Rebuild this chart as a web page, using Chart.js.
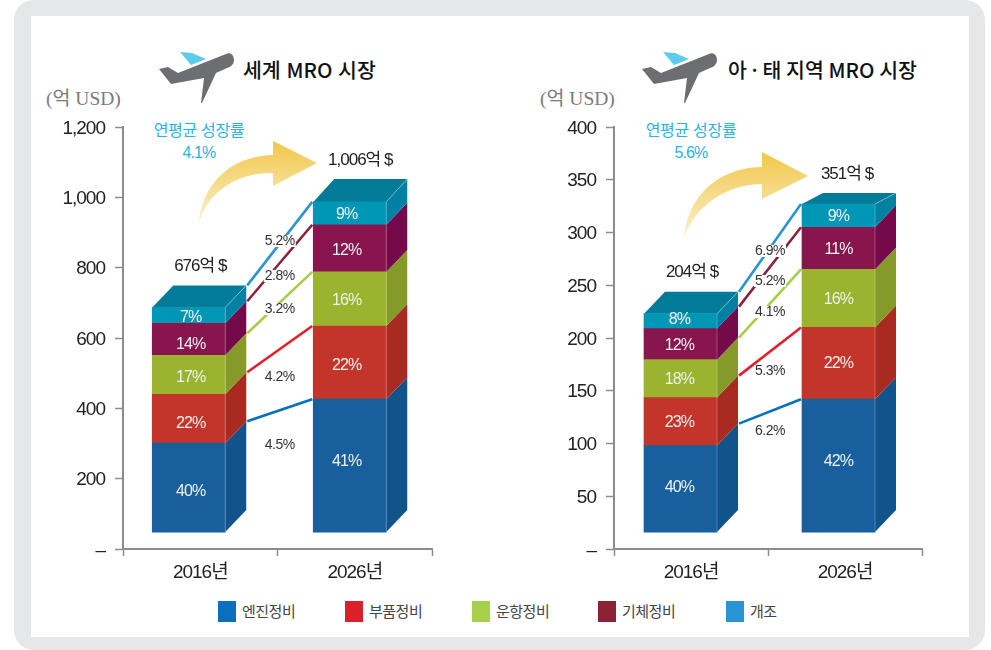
<!DOCTYPE html>
<html lang="ko">
<head>
<meta charset="utf-8">
<title>MRO 시장</title>
<script src="https://cdn.jsdelivr.net/npm/chart.js@4"></script>
<style>
html, body { margin: 0; padding: 0; background: #fff; }
body { width: 991px; height: 650px; overflow: hidden; position: relative; font-family: "Noto Sans CJK KR", sans-serif; }
#frame { position: absolute; left: 14px; top: 0; width: 971px; height: 650px; border-radius: 20px; background: #e6e7e9; }
#inner { position: absolute; left: 31px; top: 16px; width: 938px; height: 621px; background: #fff; }
canvas { position: absolute; }
svg { position: absolute; left: 0; top: 0; }
.title { position: absolute; top: 55px; font-size: 20.5px; font-weight: 500; color: #111; white-space: nowrap; line-height: 28px; }
.unit { position: absolute; top: 87px; font-family: "Liberation Serif", "Noto Sans CJK KR", serif; font-size: 19.5px; color: #7a7a7a; white-space: nowrap; line-height: 24px; }
.cagr { position: absolute; width: 120px; text-align: center; color: #29b4e6; font-size: 16px; line-height: 22px; letter-spacing: -0.3px; white-space: nowrap; }
.cagr b { font-family: "Liberation Sans", sans-serif; font-weight: 400; letter-spacing: -0.9px; }
#legend { position: absolute; left: 0; top: 601px; }
.item { position: absolute; top: 0; white-space: nowrap; }
.item i { position: absolute; left: 0; top: 0; width: 18px; height: 21px; }
.item span { position: absolute; left: 24px; top: 0; font-size: 15px; line-height: 20px; color: #444; letter-spacing: -0.5px; }
</style>
</head>
<body>
<div id="frame"></div>
<div id="inner"></div>

<svg width="991" height="650">
  <defs>
    <linearGradient id="gold" x1="0" y1="0" x2="0" y2="1">
      <stop offset="0" stop-color="#f1c84a"/>
      <stop offset="1" stop-color="#faf0cd"/>
    </linearGradient>
    <g id="plane">
      <path fill="#5ccbec" d="M21 0 L33 1 L47 7 L32 13 Z"/>
      <path fill="#6d6e71" d="M0 17 L9 15 L19 21 L67 2 C71 0 75 3 75 8 C75 12 72 15 68 16 L57 21 L43 51 L42 51 L45 26 L12 32 Z"/>
    </g>
  </defs>
  <use href="#plane" x="159" y="52"/>
  <use href="#plane" x="642" y="52"/>
  <path fill="url(#gold)" d="M199 223 C201 190 225 156 273 155 L273 141 L317 163 L273 186 L273 173 C240 172 208 190 199 223 Z"/>
  <path fill="url(#gold)" d="M684 238 C686 205 710 168 762 167 L762 152 L808 176 L762 199 L762 184 C728 184 695 205 684 238 Z"/>
</svg>

<div class="title" style="left:243px">세계 MRO 시장</div>
<div class="title" style="left:728px;word-spacing:-1px">아 · 태 지역 MRO 시장</div>
<div class="unit" style="left:46px">(억 USD)</div>
<div class="unit" style="left:540px">(억 USD)</div>
<div class="cagr" style="left:139px;top:118px">연평균 성장률<br><b>4.1%</b></div>
<div class="cagr" style="left:631px;top:118px">연평균 성장률<br><b>5.6%</b></div>

<canvas id="World" width="450" height="560" style="left:30px;top:30px;width:450px;height:560px"></canvas>
<canvas id="Asia" width="450" height="560" style="left:520px;top:30px;width:450px;height:560px"></canvas>
<div id="legend"></div>

<script>
const years = ['2016년', '2026년'];
const seriesNames = ['엔진정비', '부품정비', '운항정비', '기체정비', '개조'];

// 막대가 축에서 떠 있어서 아래쪽 빈 구간을 따로 둔다
const worldGap = [48, 48];
const worldEngine = [253, 378];
const worldParts = [139, 208];
const worldLine = [111, 154];
const worldAirframe = [91, 134];
const worldMod = [45, 65];
const worldShares = [[40, 41], [22, 22], [17, 16], [14, 12], [7, 9]];
const worldGrowth = ['4.5%', '4.2%', '3.2%', '2.8%', '5.2%'];
const worldTotals = ['676억 $', '1,006억 $'];

const asiaGap = [16, 16];
const asiaEngine = [82, 126];
const asiaParts = [45.5, 68];
const asiaLine = [36, 55];
const asiaAirframe = [29.4, 40];
const asiaMod = [14.2, 22];
const asiaShares = [[40, 42], [23, 22], [18, 16], [12, 11], [8, 9]];
const asiaGrowth = ['6.2%', '5.3%', '4.1%', '5.2%', '6.9%'];
const asiaTotals = ['204억 $', '351억 $'];

const frontColors = ['#17609d', '#c3352b', '#9bb32f', '#89154f', '#0097b7'];
const sideColors = ['#11548b', '#a82a20', '#869a29', '#740a49', '#0080a2'];
const topColor = '#027b99';
const lineColors = ['#0072bc', '#e2202c', '#a6ce47', '#8a2338', '#2b93d4'];
const legendColors = ['#0b6fbe', '#dc2029', '#a6cf4a', '#8b2335', '#2a93d3'];
const legendLeft = [218, 345, 472, 598, 726];

const numFont = '"Liberation Sans", "Noto Sans CJK KR", sans-serif';

// 입체 막대, 연결선, 퍼센트 글자를 그리는 플러그인
const box3d = {
    id: 'box3d',
    afterDatasetsUpdate(chart, args, opts) {
        for (let d = 0; d < chart.data.datasets.length; d++) {
            chart.getDatasetMeta(d).data.forEach((el, i) => { el.x += opts.shift[i]; });
        }
    },
    beforeDraw(chart) {
        chart.ctx.letterSpacing = '-1px';
    },
    beforeDatasetsDraw(chart, args, opts) {
        const ctx = chart.ctx;
        const dx = opts.dx, dy = opts.dy;
        ctx.save();
        // 옆면
        for (let d = 1; d <= 5; d++) {
            chart.getDatasetMeta(d).data.forEach((el, i) => {
                const r = el.x + el.width / 2;
                const backTop = d === 5 ? opts.topDy[i] : dy;
                ctx.fillStyle = sideColors[d - 1];
                ctx.beginPath();
                ctx.moveTo(r, el.y);
                ctx.lineTo(r + dx, el.y - backTop);
                ctx.lineTo(r + dx, el.base - dy);
                ctx.lineTo(r, el.base);
                ctx.closePath();
                ctx.fill();
            });
        }
        // 윗면
        chart.getDatasetMeta(5).data.forEach((el, i) => {
            const l = el.x - el.width / 2, r = el.x + el.width / 2;
            ctx.fillStyle = topColor;
            ctx.beginPath();
            ctx.moveTo(l, el.y);
            ctx.lineTo(l + dx, el.y - opts.topDy[i]);
            ctx.lineTo(r + dx, el.y - opts.topDy[i]);
            ctx.lineTo(r, el.y);
            ctx.closePath();
            ctx.fill();
            ctx.strokeStyle = 'rgba(190,225,235,0.45)';
            ctx.lineWidth = 1;
            ctx.beginPath();
            ctx.moveTo(r, el.y);
            ctx.lineTo(r + dx, el.y - opts.topDy[i]);
            ctx.stroke();
        });
        // 연결선
        ctx.lineWidth = 2.6;
        for (let d = 1; d <= 5; d++) {
            const a = chart.getDatasetMeta(d).data[0], b = chart.getDatasetMeta(d).data[1];
            ctx.strokeStyle = lineColors[d - 1];
            ctx.beginPath();
            ctx.moveTo(a.x + a.width / 2 + dx + 1, a.y - dy);
            ctx.lineTo(b.x - b.width / 2 - 1, b.y);
            ctx.stroke();
        }
        ctx.restore();
    },
    afterDatasetsDraw(chart, args, opts) {
        const ctx = chart.ctx;
        ctx.save();
        ctx.textAlign = 'center';
        ctx.textBaseline = 'middle';
        // 앞면과 옆면 사이의 밝은 선
        ctx.strokeStyle = 'rgba(255,255,255,0.22)';
        ctx.lineWidth = 1;
        chart.getDatasetMeta(1).data.forEach((el, i) => {
            const r = el.x + el.width / 2;
            const top = chart.getDatasetMeta(5).data[i].y;
            ctx.beginPath();
            ctx.moveTo(r, top);
            ctx.lineTo(r, el.base);
            ctx.stroke();
        });
        // 막대 안 비중
        ctx.font = '16px ' + numFont;
        ctx.fillStyle = '#f1f1f1';
        ctx.letterSpacing = '-0.9px';
        for (let d = 1; d <= 5; d++) {
            chart.getDatasetMeta(d).data.forEach((el, i) => {
                ctx.fillText(opts.shares[d - 1][i] + '%', el.x + opts.shareDx[i],
                    (el.y + el.base) / 2 + 1 + opts.shareDy[d - 1][i]);
            });
        }
        // 연평균 증가율
        const a0 = chart.getDatasetMeta(1).data[0], b0 = chart.getDatasetMeta(1).data[1];
        const midX = (a0.x + a0.width / 2 + opts.dx + b0.x - b0.width / 2) / 2;
        ctx.font = '14px ' + numFont;
        ctx.letterSpacing = '-0.5px';
        opts.growth.forEach((label, i) => {
            const y = opts.growthY[i] - opts.originY;
            ctx.fillStyle = '#fff';
            ctx.fillRect(midX - 16, y - 6, 32, 12);
            ctx.fillStyle = '#333';
            ctx.fillText(label, midX, y);
        });
        // 합계
        ctx.font = '17px ' + numFont;
        ctx.letterSpacing = '-1px';
        ctx.fillStyle = '#222';
        chart.getDatasetMeta(5).data.forEach((el, i) => {
            ctx.fillText(opts.totals[i], el.x + opts.dx / 2 + 1 + opts.totalDx[i], el.y - opts.topDy[i] - 19);
        });
        ctx.restore();
    }
};

function makeChart(id, yMax, step, yWidth, stacks, box) {
    const names = ['', ...seriesNames];
    return new Chart(document.getElementById(id), {
        type: 'bar',
        data: {
            labels: years,
            datasets: stacks.map((values, d) => ({
                label: names[d],
                data: values,
                backgroundColor: d === 0 ? 'rgba(0,0,0,0)' : frontColors[d - 1],
                borderWidth: 0,
                barThickness: 73
            }))
        },
        options: {
            responsive: false,
            animation: false,
            layout: { padding: { top: 97, right: 48, left: 0, bottom: 0 } },
            plugins: { legend: { display: false }, tooltip: { enabled: false }, box3d: box },
            scales: {
                x: {
                    stacked: true,
                    afterFit(scale) { scale.height = 41; },
                    grid: { drawOnChartArea: false, tickLength: 7, tickColor: '#8c8c8c', tickWidth: 1.5 },
                    border: { color: '#8c8c8c', width: 2 },
                    ticks: { color: '#222', padding: 5, maxRotation: 0, font: { family: numFont, size: 19 } }
                },
                y: {
                    stacked: true,
                    min: 0,
                    max: yMax,
                    afterFit(scale) { scale.width = yWidth; },
                    grid: { drawOnChartArea: false, tickLength: 8, tickColor: '#8c8c8c', tickWidth: 1.5 },
                    border: { color: '#8c8c8c', width: 2 },
                    ticks: {
                        stepSize: step,
                        color: '#222',
                        padding: 10,
                        labelOffset: 1.5,
                        font: { family: numFont, size: 19 },
                        callback: v => v === 0 ? '–' : v.toLocaleString('en-US')
                    }
                }
            }
        },
        plugins: [box3d]
    });
}

makeChart('World', 1200, 200, 93,
    [worldGap, worldEngine, worldParts, worldLine, worldAirframe, worldMod],
    {
        dx: 21, dy: 22, topDy: [22, 23], shift: [-11.5, -5], originY: 30,
        shares: worldShares, growth: worldGrowth, totals: worldTotals,
        growthY: [445, 377, 309, 276, 241], totalDx: [0, -1], shareDx: [2, -3],
        shareDy: [[3, -5], [4, 2], [2, 1], [4, 1], [1, 0]]
    });

makeChart('Asia', 400, 50, 94,
    [asiaGap, asiaEngine, asiaParts, asiaLine, asiaAirframe, asiaMod],
    {
        dx: 21, dy: 22, topDy: [22, 11], shift: [-10.5, -6.5], originY: 30,
        shares: asiaShares, growth: asiaGrowth, totals: asiaTotals,
        growthY: [431, 371, 312, 281, 251], totalDx: [0, -3], shareDx: [-1, 0],
        shareDy: [[-2, -5], [0, -1], [0, 0], [0, 0], [-3, 0]]
    });

// 범례
const legend = document.getElementById('legend');
seriesNames.forEach((name, i) => {
    const item = document.createElement('div');
    item.className = 'item';
    item.style.left = legendLeft[i] + 'px';
    const box = document.createElement('i');
    box.style.background = legendColors[i];
    const text = document.createElement('span');
    text.textContent = name;
    item.appendChild(box);
    item.appendChild(text);
    legend.appendChild(item);
});
</script>
</body>
</html>
